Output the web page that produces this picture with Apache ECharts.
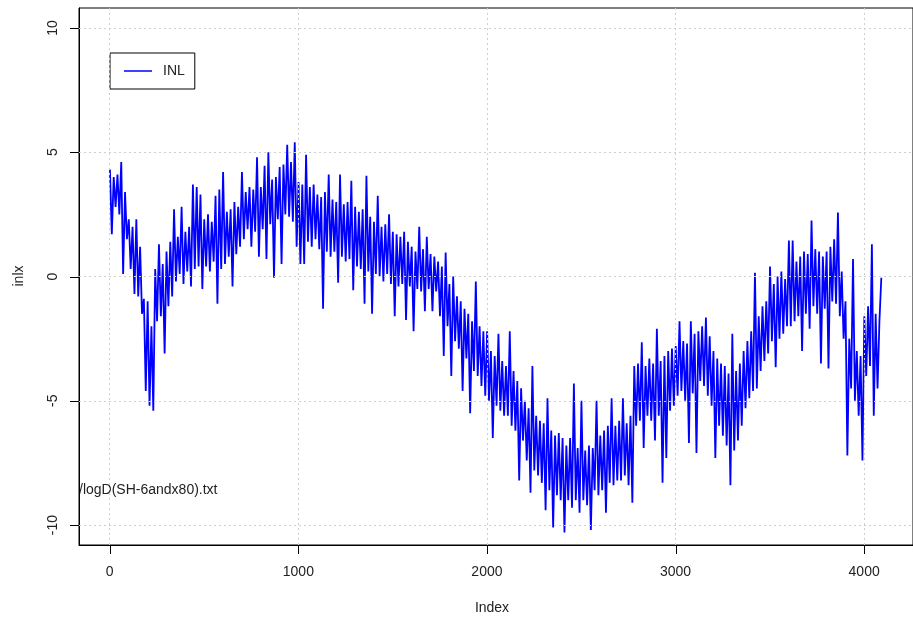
<!DOCTYPE html>
<html><head><meta charset="utf-8">
<script src="https://cdn.jsdelivr.net/npm/echarts@6/dist/echarts.min.js"></script>
<style>html,body{margin:0;padding:0;background:#fff}#c{width:913px;height:621px}</style>
</head><body><div id="c"></div>
<script>
const seriesName = 'INL';
const indexStart = 1;
const indexStep = 10;
const inlValues = [
  4.3, 1.7, 4.0, 2.8, 4.1, 2.5, 4.6, 0.1, 3.4, 1.5,
  2.3, 0.3, 2.0, -0.7, 2.3, -0.8, 1.2, -1.5, -0.9, -4.6,
  -1.0, -5.2, -2.0, -5.4, 0.3, -1.8, 1.3, -1.6, 0.5, -3.1,
  1.0, -1.2, 1.4, -0.8, 2.7, -0.2, 1.6, 0.1, 2.8, -0.3,
  1.8, 0.2, 2.0, -0.4, 3.7, 0.3, 3.6, 0.4, 3.3, -0.5,
  2.3, 0.4, 2.5, 0.2, 2.2, 0.6, 3.25, -1.1, 3.5, 0.3,
  4.2, 0.5, 2.6, 0.8, 2.7, -0.4, 3.0, 0.9, 2.8, 1.2,
  4.2, 1.5, 3.4, 1.9, 3.6, 1.2, 3.5, 1.8, 4.8, 0.8,
  3.6, 1.9, 4.45, 0.7, 5.0, 2.1, 3.9, -0.05, 4.0, 2.3,
  4.4, 0.5, 4.5, 2.5, 5.3, 2.4, 4.6, 2.2, 5.4, 1.2,
  3.8, 0.5, 3.7, 0.5, 4.9, 1.4, 3.6, 1.2, 3.7, 1.5,
  3.3, 1.1, 3.2, -1.3, 3.4, 1.0, 4.1, 0.8, 3.1, 1.0,
  3.0, -0.25, 4.1, 0.8, 2.9, 0.6, 3.0, 0.7, 3.85, -0.55,
  2.8, 0.4, 2.6, 0.3, 2.7, -1.1, 4.05, 0.2, 2.4, -1.5,
  2.2, 0.1, 3.25, 0.0, 2.0, -0.2, 2.1, 0.1, 2.5, -0.3,
  1.8, -1.6, 1.7, -0.4, 1.6, -0.3, 1.8, -1.75, 1.4, -0.4,
  1.2, -2.2, 1.0, -0.5, 2.0, -0.6, 1.1, -1.4, 1.6, -0.5,
  0.9, -1.4, 0.8, -0.6, 0.6, -1.6, 0.4, -3.2, 0.96, -2.0,
  -0.3, -4.0, 0.0, -2.6, -0.8, -2.9, -1.0, -4.6, -1.3, -3.3,
  -1.5, -5.5, -1.8, -3.8, -0.2, -4.0, -2.0, -4.4, -2.2, -4.8,
  -2.2, -5.0, -3.0, -6.5, -3.2, -5.2, -2.3, -5.4, -3.4, -5.6,
  -3.6, -5.6, -2.2, -6.0, -3.8, -6.2, -4.2, -8.2, -4.5, -6.6,
  -5.0, -7.4, -5.3, -8.7, -3.6, -7.8, -5.6, -8.0, -5.8, -8.3,
  -5.9, -9.4, -4.9, -8.6, -6.2, -10.1, -6.4, -8.8, -6.3, -9.0,
  -6.5, -10.3, -6.8, -9.0, -6.5, -9.3, -4.3, -9.0, -6.9, -9.5,
  -5.0, -9.0, -7.0, -9.2, -6.8, -10.2, -6.9, -8.6, -5.0, -8.8,
  -6.4, -8.6, -6.2, -9.5, -6.0, -8.3, -4.9, -8.4, -6.0, -8.2,
  -5.8, -8.2, -4.9, -8.0, -5.9, -8.4, -5.6, -9.1, -3.6, -6.0,
  -3.5, -5.8, -2.65, -6.9, -3.6, -5.6, -3.3, -5.8, -3.5, -6.6,
  -2.1, -5.6, -3.4, -8.3, -3.2, -7.3, -3.0, -5.4, -2.9, -5.2,
  -2.8, -4.8, -1.8, -4.6, -2.6, -5.0, -2.7, -6.7, -1.8, -4.7,
  -2.3, -7.1, -2.2, -4.2, -2.0, -4.4, -1.65, -4.8, -2.4, -5.2,
  -3.0, -7.3, -3.3, -6.0, -3.5, -6.4, -3.6, -6.8, -3.9, -8.4,
  -2.3, -7.0, -3.8, -6.6, -3.5, -6.0, -3.0, -5.3, -2.6, -4.9,
  -2.2, -4.6, 0.15, -4.5, -1.6, -3.8, -1.2, -3.4, -1.0, -3.1,
  0.4, -2.6, -0.3, -3.65, 0.0, -2.5, 0.2, -2.3, -0.1, -2.0,
  1.45, -2.0, 1.45, -1.8, 0.6, -1.6, 0.8, -3.0, 1.0, -1.5,
  0.9, -2.1, 2.25, -1.2, 1.1, -1.5, 1.0, -3.5, 0.8, -1.3,
  1.0, -3.7, 1.2, -1.0, 1.5, -1.1, 2.57, -1.6, 0.2, -2.5,
  -1.0, -7.2, -2.5, -4.5, 0.7, -5.0, -3.0, -5.6, -3.2, -7.4,
  -1.6, -4.0, -1.2, -3.6, 1.3, -5.6, -1.5, -4.5, -1.8, -0.05
];
const xTickValues = [0, 1000, 2000, 3000, 4000];
const yTickValues = [-10, -5, 0, 5, 10];
const xAxisTitle = 'Index';
const yAxisTitle = 'inlx';
const noteText = '/logD(SH-6andx80).txt';

const seriesData = inlValues.map((v, i) => [indexStart + i * indexStep, v]);
const FONT = '"Liberation Sans", Arial, sans-serif';
const gridMarks = xTickValues.map(v => ({ xAxis: v })).concat(yTickValues.map(v => ({ yAxis: v })));
const X_MIN = -163, X_MAX = 4259, Y_MIN = -10.8, Y_MAX = 10.8;
const TICK_LEN = 9;

const chart = echarts.init(document.getElementById('c'), null, { renderer: 'canvas' });
const textGraphics = [
  { type: 'text', left: 79, top: 483, style: { text: noteText, font: '14px ' + FONT, fill: '#222' } },
  { type: 'text', x: 492, y: 608, style: { text: xAxisTitle, font: '14px ' + FONT, fill: '#222', align: 'center', verticalAlign: 'middle' } },
  { type: 'text', x: 19, y: 276, rotation: Math.PI / 2, style: { text: yAxisTitle, font: '14px ' + FONT, fill: '#222', align: 'center', verticalAlign: 'middle' } }
];
chart.setOption({
  animation: false,
  backgroundColor: '#ffffff',
  textStyle: { fontFamily: FONT },
  grid: {
    left: 79, top: 8, right: -11, bottom: 76,
    show: true, borderColor: '#000', borderWidth: 1, backgroundColor: 'transparent'
  },
  legend: {
    left: 110, top: 53,
    orient: 'horizontal',
    data: [{ name: seriesName, icon: 'rect' }],
    itemWidth: 28, itemHeight: 1.5,
    padding: [11, 10, 11, 14],
    borderColor: '#000', borderWidth: 1,
    textStyle: { fontSize: 14, color: '#222', fontFamily: FONT, padding: [0, 0, 0, 6] }
  },
  xAxis: {
    type: 'value', min: X_MIN, max: X_MAX,
    axisLine: { show: true, onZero: false, lineStyle: { color: '#000', width: 1 } },
    axisTick: { show: false },
    axisLabel: { customValues: xTickValues, fontSize: 14, color: '#222', margin: 20, fontFamily: FONT,
      formatter: v => String(v) },
    splitLine: { show: false }
  },
  yAxis: {
    type: 'value', min: Y_MIN, max: Y_MAX,
    axisLine: { show: true, onZero: false, lineStyle: { color: '#000', width: 1 } },
    axisTick: { show: false },
    axisLabel: { customValues: yTickValues, fontSize: 14, color: '#222', margin: 19, rotate: 90, fontFamily: FONT,
      formatter: v => String(v) },
    splitLine: { show: false }
  },
  graphic: textGraphics,
  series: [{
    name: seriesName,
    type: 'line',
    data: seriesData,
    symbol: 'none',
    showSymbol: false,
    sampling: null,
    lineStyle: { color: '#0000ff', width: 1.8 },
    itemStyle: { color: '#0000ff' },
    markLine: {
      silent: true,
      symbol: ['none', 'none'],
      label: { show: false },
      lineStyle: { color: '#cfcfcf', type: [2, 3], width: 1 },
      data: gridMarks
    }
  }]
});

// axis tick marks placed through the chart's own scales
const yBottomPx = chart.convertToPixel({ gridIndex: 0 }, [X_MIN, Y_MIN]);
const tickGraphics = [];
xTickValues.forEach(v => {
  const p = chart.convertToPixel({ gridIndex: 0 }, [v, Y_MIN]);
  const x = Math.round(p[0]) + 0.5;
  tickGraphics.push({ type: 'line', silent: true,
    shape: { x1: x, y1: p[1], x2: x, y2: p[1] + TICK_LEN }, style: { stroke: '#000', lineWidth: 1 } });
});
yTickValues.forEach(v => {
  const p = chart.convertToPixel({ gridIndex: 0 }, [X_MIN, v]);
  const y = Math.round(p[1]) + 0.5;
  tickGraphics.push({ type: 'line', silent: true,
    shape: { x1: p[0] - TICK_LEN, y1: y, x2: p[0], y2: y }, style: { stroke: '#000', lineWidth: 1 } });
});
chart.setOption({ graphic: textGraphics.concat(tickGraphics) });
</script></body></html>
